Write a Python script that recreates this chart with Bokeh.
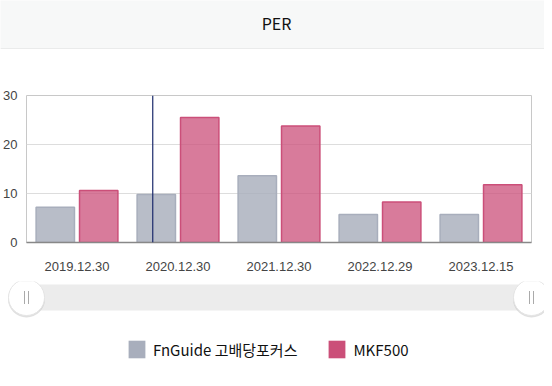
from bokeh.plotting import figure
from bokeh.models import (FactorRange, ColumnDataSource, Span, Legend, LegendItem,
                          FixedTicker, Range1d)
from bokeh.core.properties import value
from bokeh.transform import dodge
from bokeh.embed import file_html
from bokeh.resources import INLINE

# ---- data ----
categories = ["2019.12.30", "2020.12.30", "2021.12.30", "2022.12.29", "2023.12.15"]
fnguide = [7.2, 9.8, 13.6, 5.7, 5.7]
mkf500 = [10.6, 25.5, 23.8, 8.25, 11.8]
y_ticks = [0, 10, 20, 30]
series_names = ["FnGuide 고배당포커스", "MKF500"]
title_text = "PER"
cursor_category = "2020.12.30"

GRAY = "#a8aebc"
PINK = "#cb4f79"
W = 544
BL, BR = 26, 13           # main chart borders
FL, FR = BL, W - BR       # main frame extent in canvas px
H_HEAD, H_MAIN, H_NAV = 49, 232, 100


def blank(h, fill):
    fig = figure(width=W, height=h, x_range=Range1d(0, W), y_range=Range1d(h, 0),
                 x_axis_location=None, y_axis_location=None,
                 output_backend="svg", toolbar_location=None, min_border=0,
                 min_border_left=0, min_border_right=0, min_border_top=0, min_border_bottom=0)
    fig.grid.grid_line_color = None
    fig.outline_line_color = None
    fig.background_fill_color = fill
    fig.border_fill_color = fill
    return fig


# ---- header ----
head = blank(H_HEAD, "#f7f8f8")
head.quad(left=[0], right=[W], top=[H_HEAD - 1], bottom=[H_HEAD], fill_color="#dedede",
          line_color=None)
head.text(x=[276], y=[22], text=[title_text], text_align="center", text_baseline="middle",
          text_font=value("Noto Sans CJK KR"), text_font_size="16px", text_color="#111111")

# ---- main chart ----
src = ColumnDataSource(dict(date=categories, a=fnguide, b=mkf500))
p = figure(width=W, height=H_MAIN, x_range=FactorRange(*categories), y_range=(0, 30),
           output_backend="svg", toolbar_location=None,
           min_border_left=BL, min_border_right=BR, min_border_top=46, min_border_bottom=39)

p.vbar(x=dodge("date", -0.215, range=p.x_range), top="a", width=0.38, source=src,
       fill_color=GRAY, fill_alpha=0.82, line_color=GRAY, line_width=1.5)
p.vbar(x=dodge("date", 0.215, range=p.x_range), top="b", width=0.38, source=src,
       fill_color=PINK, fill_alpha=0.75, line_color=PINK, line_width=1.5)

p.add_layout(Span(location=categories.index(cursor_category) + 0.25, dimension="height",
                  line_color="#1b2a6b", line_width=1.2))

p.background_fill_color = "white"
p.border_fill_color = "white"
p.outline_line_color = "#c8c8c8"
p.xgrid.grid_line_color = None
p.ygrid.grid_line_color = "#dddddd"
p.ygrid.ticker = FixedTicker(ticks=y_ticks)

p.yaxis.ticker = FixedTicker(ticks=y_ticks)
p.yaxis.axis_line_color = None
p.yaxis.major_tick_line_color = None
p.yaxis.minor_tick_line_color = None
p.yaxis.major_tick_out = 0
p.yaxis.major_tick_in = 0
p.yaxis.major_label_standoff = 9
p.yaxis.major_label_text_font = "Liberation Sans"
p.yaxis.major_label_text_font_size = "13px"
p.yaxis.major_label_text_color = "#444444"

p.xaxis.axis_line_color = "#888888"
p.xaxis.axis_line_width = 1.5
p.xaxis.major_tick_line_color = None
p.xaxis.minor_tick_line_color = None
p.xaxis.major_tick_out = 0
p.xaxis.major_tick_in = 0
p.xaxis.major_label_standoff = 19
p.xaxis.major_label_text_font = "Liberation Sans"
p.xaxis.major_label_text_font_size = "13px"
p.xaxis.major_label_text_color = "#444444"

# ---- navigator + legend ----
nav = blank(H_NAV, "white")
hx = [FL, FR]
nav.quad(left=[FL], right=[FR], top=[3], bottom=[29], fill_color="#ececec", line_color=None)
nav.scatter(x=hx, y=[17.5, 17.5], size=37, marker="circle", fill_color="#bbbbbb", fill_alpha=0.45,
            line_color=None)
nav.scatter(x=hx, y=[16, 16], size=36, marker="circle", fill_color="white",
            line_color="#e4e4e4", line_width=1)
for dx in (-2, 2):
    nav.segment(x0=[x + dx for x in hx], x1=[x + dx for x in hx], y0=[9.5, 9.5], y1=[22.5, 22.5],
                line_color="#aaaaaa", line_width=1)

l1 = nav.rect(x=[-100], y=[-100], width=1, height=1, fill_color=GRAY, line_color=None)
l2 = nav.rect(x=[-100], y=[-100], width=1, height=1, fill_color=PINK, line_color=None)
legend = Legend(items=[LegendItem(label=series_names[0], renderers=[l1]),
                       LegendItem(label=series_names[1], renderers=[l2])],
                orientation="horizontal", location=(126, H_NAV - 79),
                glyph_width=21, glyph_height=22, label_standoff=6, spacing=29,
                padding=0, margin=0, border_line_color=None, background_fill_alpha=0,
                label_text_font="Noto Sans CJK KR", label_text_font_size="15px",
                label_text_color="#111111")
nav.add_layout(legend, "center")

open("out.html", "w").write(file_html([head, p, nav], INLINE))
